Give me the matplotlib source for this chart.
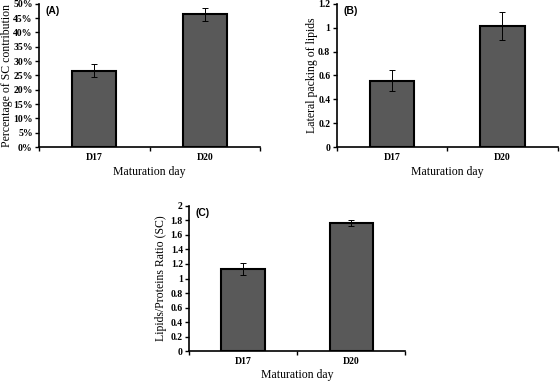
import matplotlib.pyplot as plt
from matplotlib.ticker import FuncFormatter, MultipleLocator

days = ['D17', 'D20']

sc_contrib = [26.7, 46.3]
sc_contrib_err = [2.2, 2.2]

lateral_packing = [0.556, 1.013]
lateral_packing_err = [0.088, 0.117]

lip_prot_ratio = [1.135, 1.762]
lip_prot_ratio_err = [0.083, 0.045]

serif = 'Liberation Serif'
sans = 'Liberation Sans'


def panneau(ax, valeurs, erreurs, ymax, pas, ylabel, lettre, fmt, ylab_x, xlab_y):
    x = [0.5, 1.5]
    ax.bar(x, valeurs, width=0.4, color='#595959', edgecolor='black', linewidth=1.5, zorder=2)
    ax.errorbar(x, valeurs, yerr=erreurs, fmt='none', ecolor='black',
                elinewidth=0.7, capsize=2, capthick=0.7, zorder=3)
    ax.set_xlim(0, 2)
    ax.set_ylim(0, ymax)
    ax.yaxis.set_major_locator(MultipleLocator(pas))
    ax.yaxis.set_major_formatter(FuncFormatter(fmt))
    ax.set_xticks([0, 1, 2])
    ax.set_xticklabels([])
    ax.set_xticks(x, minor=True)
    ax.set_xticklabels(days, minor=True)
    ax.tick_params(axis='x', which='minor', length=0, pad=4)
    ax.tick_params(axis='x', which='major', length=3, width=1, direction='out')
    ax.tick_params(axis='y', length=3, width=1, direction='out', pad=1.5)
    for lab in ax.get_xticklabels(minor=True) + ax.get_yticklabels():
        lab.set_family(serif)
        lab.set_fontweight('bold')
        lab.set_fontsize(7)
    for s in ['top', 'right']:
        ax.spines[s].set_visible(False)
    for s in ['left', 'bottom']:
        ax.spines[s].set_linewidth(1.2)
    ax.set_xlabel('Maturation day', family=serif, fontsize=8.5, va='center')
    ax.set_ylabel(ylabel, family=serif, fontsize=8.5, va='center')
    ax.xaxis.set_label_coords(0.5, xlab_y)
    ax.yaxis.set_label_coords(ylab_x, 0.5)
    ax.text(0.03, 0.985, lettre, transform=ax.transAxes, family=sans,
            fontweight='bold', fontsize=7.5, va='top', ha='left')


fig = plt.figure(figsize=(5.6, 3.83), dpi=100)

axA = fig.add_axes([0.0696, 0.616, 0.395, 0.374])
panneau(axA, sc_contrib, sc_contrib_err, 50, 5,
        'Percentage of SC contribution', '(A)', lambda v, p: '%d%%' % round(v),
        -0.143, -0.175)

axB = fig.add_axes([0.601, 0.616, 0.395, 0.374])
panneau(axB, lateral_packing, lateral_packing_err, 1.2, 0.2,
        'Lateral packing of lipids', '(B)', lambda v, p: '%g' % round(v, 1),
        -0.113, -0.175)

axC = fig.add_axes([0.3375, 0.0828, 0.386, 0.380])
panneau(axC, lip_prot_ratio, lip_prot_ratio_err, 2, 0.2,
        'Lipids/Proteins Ratio (SC)', '(C)', lambda v, p: '%g' % round(v, 1),
        -0.131, -0.163)

fig.savefig('out.png', dpi=100)
